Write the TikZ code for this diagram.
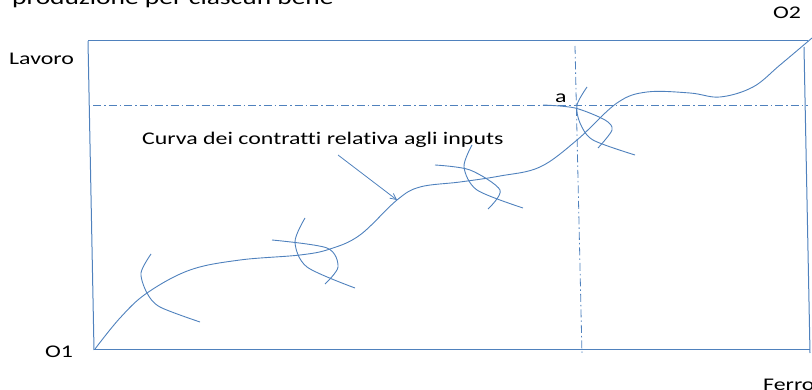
\documentclass[tikz,border=0pt]{standalone}
\usepackage{fontspec}
\setmainfont{Carlito}[FakeStretch=1.34, Ligatures=NoCommon]
\usetikzlibrary{arrows.meta}
\definecolor{lineblue}{RGB}{79,129,189}
\tikzset{
  frame/.style={draw=lineblue, line width=1pt},
  guide/.style={draw=lineblue, line width=0.8pt, dash pattern=on 8pt off 3pt on 1.5pt off 3pt},
  curve/.style={draw=lineblue, line width=0.9pt},
  lbl/.style={inner sep=0pt, text=black, font=\fontsize{17.8}{20}\selectfont},
  titlelbl/.style={inner sep=0pt, text=black, font=\fontsize{20.5}{24}\selectfont},
  pointer/.style={draw=lineblue, line width=0.8pt, -{Straight Barb[length=6pt,width=6pt]}}
}
\begin{document}
\begin{tikzpicture}[x=1pt,y=-1pt]
\useasboundingbox (0,0) rectangle (812,390);
\clip (0,0) rectangle (812,390);
% labels
\node[titlelbl, anchor=base west] (title) at (12,5) {produzione per ciascun bene};
\node[lbl, anchor=base west] (lavoro) at (9,65) {Lavoro};
\node[lbl, anchor=base west] (o1) at (45,358) {O1};
\node[lbl, anchor=base west] (o2) at (773,19) {O2};
\node[lbl, anchor=base west] (ferro) at (763,390) {Ferro};
\node[lbl, anchor=base west] (a) at (555,103) {a};
\node[lbl, anchor=base west] (cc) at (142,145) {Curva dei contratti relativa agli inputs};
% box corners
\coordinate (TL) at (88,41);
\coordinate (BL) at (94,350);
\coordinate (TR) at (808,41);
\coordinate (RT) at (804,47);
\coordinate (BR) at (810,350);
\coordinate (RB) at (810,353);
\draw[frame] (TL) -- (TR);
\draw[frame] (TL) -- (BL);
\draw[frame] (BL) -- (BR);
\draw[frame] (RT) -- (RB);
% guides through a
\coordinate (vt) at (575,46);
\coordinate (vb) at (582,355);
\coordinate (hl) at (93,105);
\coordinate (hr) at (808,105);
\draw[guide] (vt) -- (vb);
\draw[guide] (hl) -- (hr);
% contract curve
\draw[curve] plot[smooth, tension=0.6] coordinates {(95,349) (120,318) (147,293) (190,270) (240,260) (300,255) (330,249) (360,235) (397,200) (420,187) (460,182) (500,176) (540,167) (577,140) (617,103) (647,92) (690,93) (720,97) (753,87) (780,65) (812,38)};
% isoquants
\draw[curve] plot[smooth] coordinates {(151,254) (141,273) (147,293) (160,307) (200,322)};
\draw[curve] plot[smooth] coordinates {(272,240) (327,248) (338,267) (325,284)};
\draw[curve] plot[smooth] coordinates {(305,218) (295,242) (307,267) (355,288)};
\draw[curve] plot[smooth] coordinates {(435,165) (470,170) (500,190) (488,209)};
\draw[curve] plot[smooth] coordinates {(472,145) (464,167) (477,190) (523,208)};
\draw[curve] plot[smooth] coordinates {(543,105) (575,108) (605,120) (612,130) (598,148)};
\draw[curve] plot[smooth] coordinates {(587,87) (577,105) (580,123) (593,140) (635,155)};
% pointer
\coordinate (ps) at (338,155);
\coordinate (pe) at (397,200);
\draw[pointer] (ps) -- (pe);
\end{tikzpicture}
\end{document}
